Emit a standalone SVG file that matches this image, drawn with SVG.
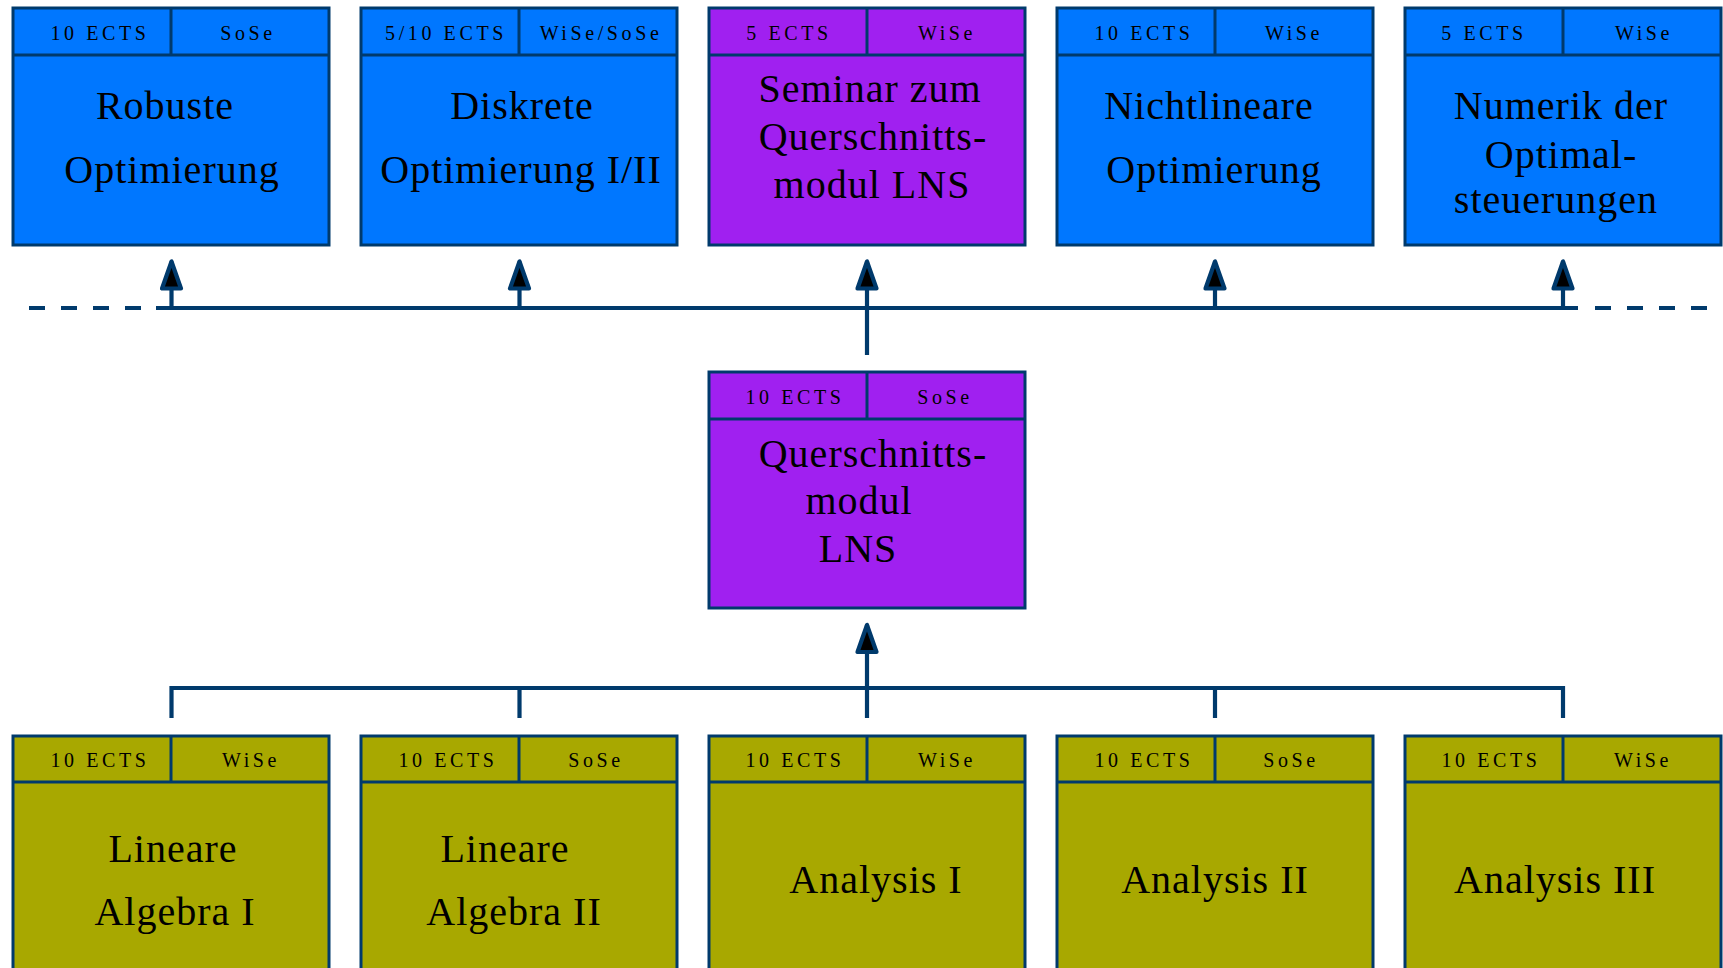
<svg xmlns="http://www.w3.org/2000/svg" width="1723" height="968" viewBox="0 0 1723 968">
<style>
.box{stroke:#003A6C;stroke-width:3}
.ln{stroke:#003A6C;stroke-width:3;fill:none}
.blue{fill:#0077FF}
.purple{fill:#A020F0}
.olive{fill:#A8A800}
.hd{font-family:"Liberation Serif",serif;font-size:20px;letter-spacing:3.6px;text-anchor:middle;fill:#000}
.tt{font-family:"Liberation Serif",serif;font-size:40px;letter-spacing:1px;text-anchor:middle;fill:#000}
.conn{stroke:#003A6C;stroke-width:4.2;fill:none}
.dash{stroke-dasharray:16 16}
</style>
<defs>
<marker id="arr" markerUnits="userSpaceOnUse" viewBox="-40 -20 50 40" refX="0" refY="0" markerWidth="50" markerHeight="40" orient="auto" overflow="visible">
<path d="M0,0 L-27,-9.5 L-27,9.5 Z" fill="#000" stroke="#003A6C" stroke-width="4.2" stroke-linejoin="round"/>
</marker>
</defs>
<rect width="1723" height="968" fill="#fff"/>

<g id="connectors">
<path class="conn dash" d="M29,308 H156"/>
<path class="conn" d="M156,308 H1578"/>
<path class="conn dash" d="M1595,308 H1707"/>
<path class="conn" d="M171.5,308 V261.5" marker-end="url(#arr)"/>
<path class="conn" d="M519.5,308 V261.5" marker-end="url(#arr)"/>
<path class="conn" d="M867,355 V261.5" marker-end="url(#arr)"/>
<path class="conn" d="M1215,308 V261.5" marker-end="url(#arr)"/>
<path class="conn" d="M1563,308 V261.5" marker-end="url(#arr)"/>
<path class="conn" d="M171.5,718 V688 H1563 V718"/>
<path class="conn" d="M519.5,688 V718"/>
<path class="conn" d="M1215,688 V718"/>
<path class="conn" d="M867,718 V625" marker-end="url(#arr)"/>
</g>

<g id="robuste">
<rect class="box blue" x="13" y="8" width="316" height="237"/>
<path class="ln" d="M13,55 H329 M171,8 V55"/>
<text class="hd" x="100" y="40">10 ECTS</text>
<text class="hd" x="248" y="40">SoSe</text>
<text class="tt" x="165" y="119">Robuste</text>
<text class="tt" x="172" y="183">Optimierung</text>
</g>

<g id="diskrete">
<rect class="box blue" x="361" y="8" width="316" height="237"/>
<path class="ln" d="M361,55 H677 M519,8 V55"/>
<text class="hd" x="446" y="40">5/10 ECTS</text>
<text class="hd" x="601" y="40">WiSe/SoSe</text>
<text class="tt" x="522" y="119">Diskrete</text>
<text class="tt" x="521" y="183">Optimierung I/II</text>
</g>

<g id="seminar">
<rect class="box purple" x="709" y="8" width="316" height="237"/>
<path class="ln" d="M709,55 H1025 M867,8 V55"/>
<text class="hd" x="789" y="40">5 ECTS</text>
<text class="hd" x="947" y="40">WiSe</text>
<text class="tt" x="870" y="102">Seminar zum</text>
<text class="tt" x="873" y="150">Querschnitts-</text>
<text class="tt" x="872" y="198">modul LNS</text>
</g>

<g id="nichtlineare">
<rect class="box blue" x="1057" y="8" width="316" height="237"/>
<path class="ln" d="M1057,55 H1373 M1215,8 V55"/>
<text class="hd" x="1144" y="40">10 ECTS</text>
<text class="hd" x="1294" y="40">WiSe</text>
<text class="tt" x="1209" y="119">Nichtlineare</text>
<text class="tt" x="1214" y="183">Optimierung</text>
</g>

<g id="numerik">
<rect class="box blue" x="1405" y="8" width="316" height="237"/>
<path class="ln" d="M1405,55 H1721 M1563,8 V55"/>
<text class="hd" x="1484" y="40">5 ECTS</text>
<text class="hd" x="1644" y="40">WiSe</text>
<text class="tt" x="1561" y="119">Numerik der</text>
<text class="tt" x="1561" y="168">Optimal-</text>
<text class="tt" x="1556" y="213">steuerungen</text>
</g>

<g id="querschnittsmodul">
<rect class="box purple" x="709" y="372" width="316" height="236"/>
<path class="ln" d="M709,419 H1025 M867,372 V419"/>
<text class="hd" x="795" y="404">10 ECTS</text>
<text class="hd" x="945" y="404">SoSe</text>
<text class="tt" x="873" y="467">Querschnitts-</text>
<text class="tt" x="859" y="514">modul</text>
<text class="tt" x="858" y="562">LNS</text>
</g>

<g id="la1">
<rect class="box olive" x="13" y="736" width="316" height="240"/>
<path class="ln" d="M13,782 H329 M171,736 V782"/>
<text class="hd" x="100" y="767">10 ECTS</text>
<text class="hd" x="251" y="767">WiSe</text>
<text class="tt" x="173" y="862">Lineare</text>
<text class="tt" x="175" y="925">Algebra I</text>
</g>

<g id="la2">
<rect class="box olive" x="361" y="736" width="316" height="240"/>
<path class="ln" d="M361,782 H677 M519,736 V782"/>
<text class="hd" x="448" y="767">10 ECTS</text>
<text class="hd" x="596" y="767">SoSe</text>
<text class="tt" x="505" y="862">Lineare</text>
<text class="tt" x="514" y="925">Algebra II</text>
</g>

<g id="ana1">
<rect class="box olive" x="709" y="736" width="316" height="240"/>
<path class="ln" d="M709,782 H1025 M867,736 V782"/>
<text class="hd" x="795" y="767">10 ECTS</text>
<text class="hd" x="947" y="767">WiSe</text>
<text class="tt" x="876" y="893">Analysis I</text>
</g>

<g id="ana2">
<rect class="box olive" x="1057" y="736" width="316" height="240"/>
<path class="ln" d="M1057,782 H1373 M1215,736 V782"/>
<text class="hd" x="1144" y="767">10 ECTS</text>
<text class="hd" x="1291" y="767">SoSe</text>
<text class="tt" x="1215" y="893">Analysis II</text>
</g>

<g id="ana3">
<rect class="box olive" x="1405" y="736" width="316" height="240"/>
<path class="ln" d="M1405,782 H1721 M1563,736 V782"/>
<text class="hd" x="1491" y="767">10 ECTS</text>
<text class="hd" x="1643" y="767">WiSe</text>
<text class="tt" x="1555" y="893">Analysis III</text>
</g>
</svg>
